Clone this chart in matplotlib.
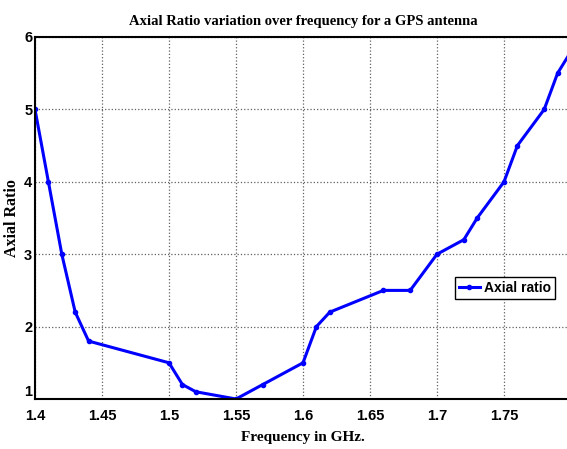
import matplotlib
matplotlib.use("Agg")
import matplotlib.pyplot as plt

freq = [1.40, 1.41, 1.42, 1.43, 1.44, 1.50, 1.51, 1.52, 1.55, 1.57, 1.60, 1.61, 1.62,
        1.66, 1.68, 1.70, 1.72, 1.73, 1.75, 1.76, 1.78, 1.79, 1.80]
axial = [5.0, 4.0, 3.0, 2.2, 1.8, 1.5, 1.2, 1.1, 1.0, 1.2, 1.5, 2.0, 2.2,
         2.5, 2.5, 3.0, 3.2, 3.5, 4.0, 4.5, 5.0, 5.5, 5.8]
xticks = [1.4, 1.45, 1.5, 1.55, 1.6, 1.65, 1.7, 1.75]
xticklabels = ["1.4", "1.45", "1.5", "1.55", "1.6", "1.65", "1.7", "1.75"]
yticks = [1, 2, 3, 4, 5, 6]

fig = plt.figure(figsize=(5.67, 4.49), dpi=100)
ax = fig.add_axes([35/567, 50/449, 536/567, 362/449])
ax.plot(freq, axial, color="#0000ff", lw=2.2, marker="o", ms=3, label="Axial ratio")
ax.set_xlim(1.4, 1.8)
ax.set_ylim(1, 6)
ax.set_xticks(xticks)
ax.set_xticklabels(xticklabels)
ax.set_yticks(yticks)
ax.grid(True, color="#606060", linestyle=":", linewidth=0.9)
for s in ax.spines.values():
    s.set_linewidth(1.5)
ax.tick_params(direction="in", length=0, pad=7)
ax.tick_params(axis="y", pad=2)
for lab in ax.get_xticklabels() + ax.get_yticklabels():
    lab.set_fontfamily("Liberation Sans")
    lab.set_fontweight("bold")
    lab.set_fontsize(10.5)
ax.get_yticklabels()[0].set_verticalalignment("bottom")
ax.set_xlabel("Frequency in GHz.", fontfamily="Liberation Serif", fontweight="bold", fontsize=11, labelpad=6)
ax.set_ylabel("Axial Ratio", fontfamily="Liberation Serif", fontweight="bold", fontsize=11.5, labelpad=3)
ax.set_title("Axial Ratio variation over frequency for a GPS antenna", fontfamily="Liberation Serif",
             fontweight="bold", fontsize=10.5, pad=9)
leg = ax.legend(loc="upper left", bbox_to_anchor=(0.783, 0.338), fancybox=False, framealpha=1,
                edgecolor="black", handlelength=1.5, handletextpad=0.3, borderpad=0.3,
                borderaxespad=0, prop={"family": "Liberation Sans", "weight": "bold", "size": 10})
leg.get_frame().set_linewidth(1.0)
fig.savefig("out.png", dpi=100)
